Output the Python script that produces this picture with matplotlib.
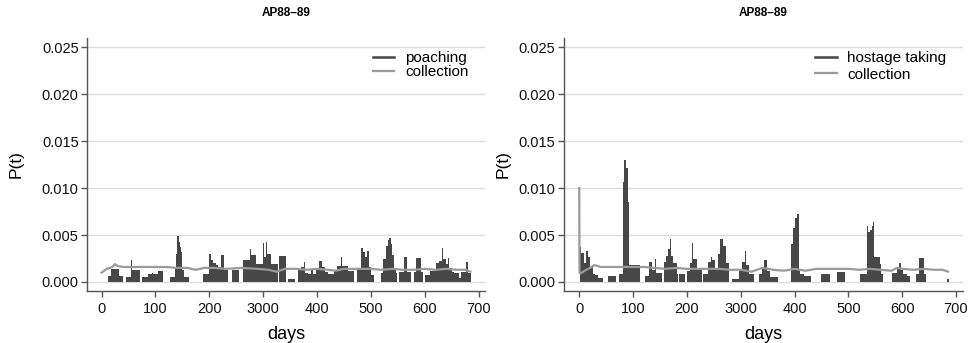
import numpy as np
import matplotlib
matplotlib.use('Agg')
import matplotlib.pyplot as plt

plt.rcParams['font.family'] = ['Liberation Sans', 'DejaVu Sans']

# poaching P(t), step edges (days) and values between them
poach_edges = [12, 18, 33, 40, 46, 55, 57, 71, 76, 86, 93, 95, 104, 114, 128, 136, 139, 141, 143, 145,
               147, 149, 153, 162, 188, 200, 203, 207, 213, 216, 222, 228, 234, 242, 256, 262, 275, 277,
               287, 299, 301, 306, 308, 314, 327, 329, 343, 346, 360, 364, 370, 376, 378, 383, 389, 393,
               399, 404, 409, 415, 420, 432, 438, 444, 446, 457, 469, 474, 481, 486, 490, 493, 496, 501,
               506, 518, 523, 528, 531, 534, 537, 540, 543, 546, 549, 553, 561, 568, 575, 580, 583, 593,
               597, 601, 609, 621, 627, 632, 634, 640, 643, 646, 650, 655, 664, 667, 677, 680, 686]
poach_vals = [0.0006, 0.0014, 0.0006, 0, 0.0005, 0.0023, 0.0013, 0, 0.0005, 0.0008, 0.0010, 0.0009,
              0.0012, 0, 0.0005, 0.0016, 0.0030, 0.0049, 0.0043, 0.0037, 0.0032, 0.0013, 0.0005, 0,
              0.0008, 0.0030, 0.0023, 0.0020, 0.0018, 0.0016, 0.0029, 0.0013, 0, 0.0013, 0, 0.0023,
              0.0035, 0.0029, 0.0019, 0.0042, 0.0027, 0.0043, 0.0030, 0.0019, 0, 0.0028, 0, 0.0003, 0,
              0.0013, 0.0016, 0.0021, 0.0010, 0.0008, 0.0013, 0.0008, 0.0013, 0.0022, 0.0016, 0.0011,
              0.0009, 0.0012, 0.0017, 0.0027, 0.0017, 0.0012, 0, 0.0015, 0.0036, 0.0032, 0.0027, 0.0033,
              0.0016, 0.0007, 0, 0.0010, 0.0025, 0.0038, 0.0045, 0.0047, 0.0040, 0.0029, 0.0015, 0.0010,
              0, 0.0011, 0.0027, 0.0011, 0, 0.0011, 0.0026, 0.0011, 0, 0.0007, 0.0012, 0.0020, 0.0022,
              0.0036, 0.0024, 0.0019, 0.0026, 0.0015, 0.0011, 0.0010, 0.0004, 0.0011, 0.0021, 0.0010]

# hostage taking P(t)
hostage_edges = [1, 2, 4, 9, 13, 17, 20, 25, 29, 35, 44, 53, 68, 73, 81, 83, 86, 90, 93, 112, 122, 130,
                 135, 140, 142, 154, 157, 162, 165, 168, 171, 174, 181, 184, 186, 197, 200, 205, 210,
                 212, 218, 228, 229, 240, 244, 247, 252, 258, 261, 267, 272, 278, 284, 297, 303, 308,
                 310, 315, 325, 334, 340, 344, 348, 354, 369, 394, 397, 400, 404, 408, 410, 418, 431,
                 450, 465, 479, 493, 522, 534, 537, 540, 543, 546, 548, 558, 561, 564, 581, 590, 594,
                 597, 602, 608, 615, 625, 631, 640, 645, 683, 686]
hostage_vals = [0.0050, 0.0037, 0.0031, 0.0020, 0.0033, 0.0027, 0.0016, 0.0008, 0.0007, 0.0004, 0,
                0.0006, 0, 0.0009, 0.0107, 0.0130, 0.0122, 0.0085, 0.0018, 0, 0.0006, 0.0021, 0.0013,
                0.0024, 0.0010, 0, 0.0021, 0.0028, 0.0035, 0.0046, 0.0028, 0.0020, 0.0008, 0, 0.0008,
                0, 0.0012, 0.0020, 0.0042, 0.0025, 0.0015, 0, 0.0008, 0.0021, 0.0027, 0.0023, 0.0015,
                0.0030, 0.0046, 0.0038, 0.0020, 0, 0.0003, 0.0014, 0.0021, 0.0033, 0.0018, 0.0009, 0,
                0.0008, 0.0015, 0.0023, 0.0012, 0.0005, 0, 0.0041, 0.0058, 0.0068, 0.0072, 0.0013,
                0.0009, 0.0006, 0, 0.0009, 0, 0.0011, 0, 0.0008, 0.0060, 0.0053, 0.0055, 0.0060, 0.0064,
                0.0027, 0.0019, 0.0009, 0, 0.0010, 0.0016, 0.0020, 0.0013, 0.0009, 0.0006, 0, 0.0008,
                0.0026, 0.0008, 0, 0.0003]

# collection curves
coll1_days = [0, 5, 10, 15, 20, 25, 30, 40, 60, 80, 100, 120, 140, 160, 175, 190, 210, 230, 260, 290,
              310, 325, 340, 360, 380, 400, 420, 435, 450, 470, 500, 520, 540, 560, 580, 600, 620, 640,
              660, 675, 685]
coll1_vals = [0.0010, 0.0012, 0.0014, 0.0015, 0.0016, 0.0019, 0.0017, 0.0016, 0.0016, 0.0016, 0.0016,
              0.0016, 0.0015, 0.0015, 0.0013, 0.0015, 0.0015, 0.0014, 0.0015, 0.0014, 0.0013, 0.0011,
              0.0014, 0.0014, 0.0013, 0.0014, 0.0013, 0.0012, 0.0014, 0.0014, 0.0014, 0.0013, 0.0014,
              0.0013, 0.0013, 0.0014, 0.0013, 0.0014, 0.0013, 0.0013, 0.0011]
coll2_days = [0, 0.5, 2, 10, 20, 28, 40, 60, 80, 100, 120, 140, 160, 180, 200, 220, 240, 260, 280, 300,
              320, 340, 360, 380, 400, 420, 440, 460, 480, 500, 520, 540, 560, 580, 590, 600, 620, 640,
              660, 675, 685]
coll2_vals = [0.0100, 0.0010, 0.0009, 0.0012, 0.0015, 0.0018, 0.0016, 0.0016, 0.0016, 0.0016, 0.0016,
              0.0015, 0.0014, 0.0015, 0.0014, 0.0014, 0.0014, 0.0014, 0.0013, 0.0013, 0.0011, 0.0015,
              0.0013, 0.0012, 0.0014, 0.0012, 0.0014, 0.0014, 0.0014, 0.0014, 0.0013, 0.0014, 0.0013,
              0.0012, 0.0015, 0.0014, 0.0013, 0.0014, 0.0013, 0.0013, 0.0011]

xticks = [0, 100, 200, 300, 400, 500, 600, 700]
xtick_labels = ['0', '100', '200', '3000', '400', '500', '600', '700']
yticks = [0.0, 0.005, 0.010, 0.015, 0.020, 0.025]

bar_col = '#474747'
coll_col = '#9a9a9a'
spine_col = '#555555'

fig = plt.figure(figsize=(9.71, 3.43), dpi=100)
ax1 = fig.add_axes([0.0896, 0.1516, 0.4099, 0.7376])
ax2 = fig.add_axes([0.5808, 0.1516, 0.4110, 0.7376])

panels = [(ax1, poach_edges, poach_vals, coll1_days, coll1_vals, 'poaching', -27, 712, 0.0, 13),
          (ax2, hostage_edges, hostage_vals, coll2_days, coll2_vals, 'hostage taking', -28.4, 713, 0.15, 6)]

for ax, edges, vals, cdays, cvals, name, x0, x1, lsp, ypad in panels:
    ax.set_xlim(x0, x1)
    ax.set_ylim(-0.00096, 0.026)
    for y in yticks:
        ax.axhline(y, color='#dcdcdc', lw=1.0, zorder=0)
    ax.stairs(vals, edges, fill=True, color=bar_col, lw=0, zorder=2)
    ax.plot([], [], color=bar_col, lw=1.8, label=name)
    ax.plot(cdays, cvals, color=coll_col, lw=1.6, zorder=3, label='collection')

    ax.set_xticks(xticks)
    ax.set_xticklabels(xtick_labels)
    ax.set_yticks(yticks)
    ax.set_yticklabels(['0.000', '0.005', '0.010', '0.015', '0.020', '0.025'])
    ax.tick_params(direction='out', length=4, width=1, color=spine_col, labelsize=10.5,
                   labelcolor='#111111', pad=2)
    ax.tick_params(axis='x', pad=4)
    for s in ['top', 'right']:
        ax.spines[s].set_visible(False)
    for s in ['left', 'bottom']:
        ax.spines[s].set_color(spine_col)
        ax.spines[s].set_linewidth(1.0)

    ax.set_xlabel('days', fontsize=13, labelpad=7)
    ax.set_ylabel('P(t)', fontsize=12.5, labelpad=ypad)
    ax.set_title('AP88\u201389', fontsize=8.5, fontweight='bold', pad=16)
    ax.legend(loc='upper right', frameon=False, fontsize=11, handlelength=1.4,
              handletextpad=0.7, labelspacing=lsp, borderaxespad=0.3,
              bbox_to_anchor=(0.985, 0.99))

fig.savefig('out.png', dpi=100)
